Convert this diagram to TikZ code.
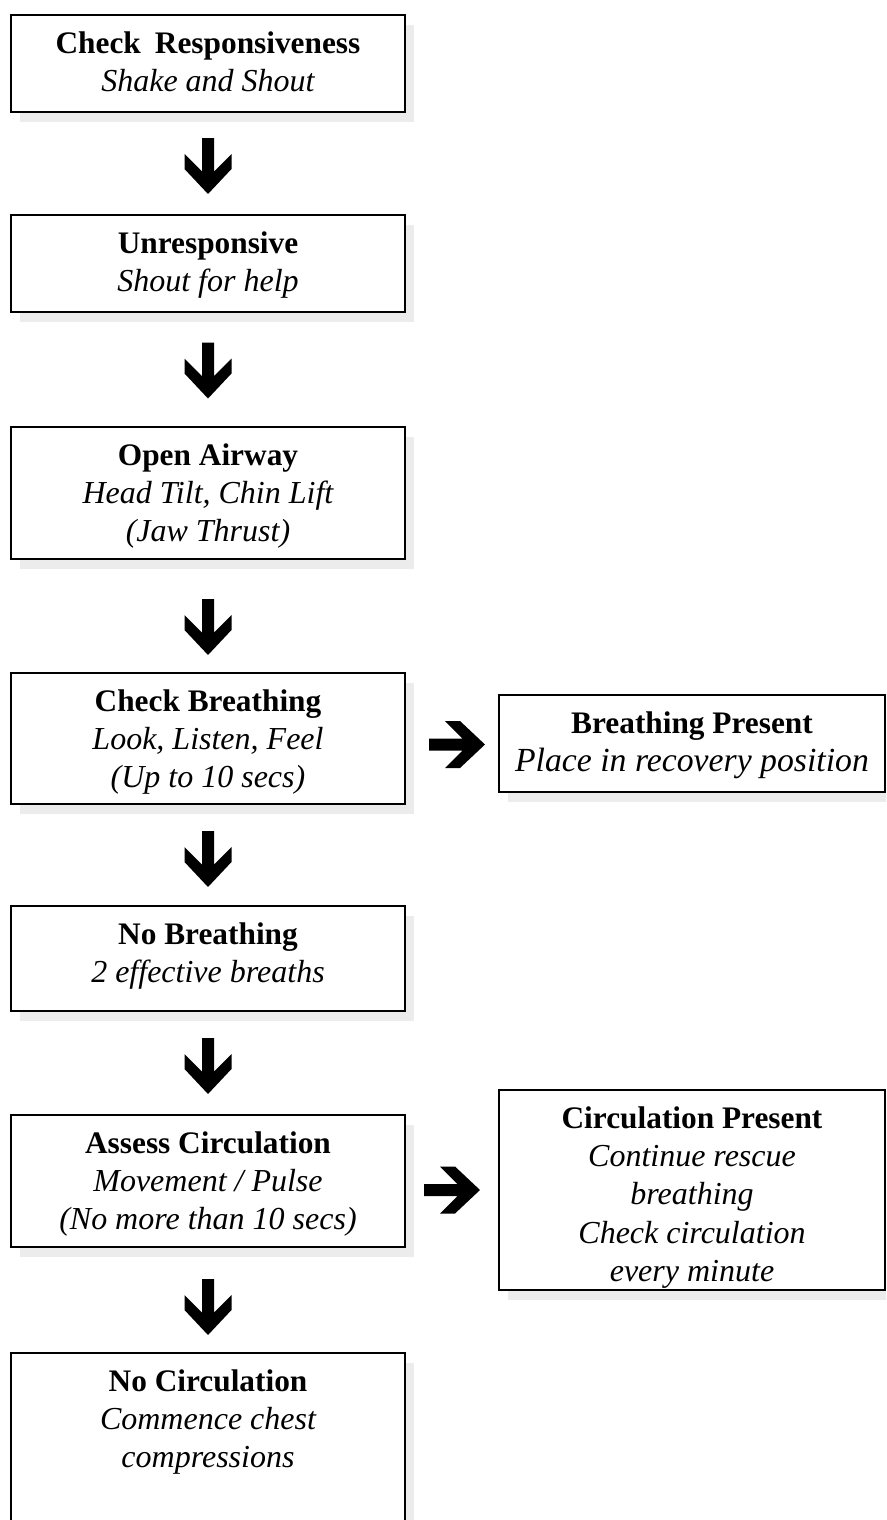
\documentclass[tikz,border=0pt]{standalone}
\usepackage{fontspec}
\setmainfont{Liberation Serif}
\usetikzlibrary{calc,shadows}
\definecolor{shadowgray}{RGB}{236,236,236}
\newcommand\ls{\rule[-8.6pt]{0pt}{28.7pt}}
\newcommand\ital[1]{{\fontsize{24pt}{28.7pt}\selectfont\itshape #1}}
\tikzset{
  box/.style={draw=black, line width=1.9pt, fill=white, rectangle, inner sep=0pt, outer sep=0pt,
    anchor=north west,
    general shadow={shadow xshift=6.75pt, shadow yshift=-7.5pt, fill=shadowgray}},
  lbl/.style={anchor=north, align=center, inner sep=0pt, font=\fontsize{23.5pt}{28.7pt}\selectfont},
  pics/downarrow/.style={code={
    \fill[black] (-6,-27) -- (6,-27) -- (6,6.5) -- (23.5,-11) -- (23.5,4) -- (0,29)
      -- (-23.5,4) -- (-23.5,-11) -- (-6,6.5) -- cycle;}},
}
\begin{document}
\begin{tikzpicture}[x=0.75pt,y=-0.75pt]
\useasboundingbox (0,0) rectangle (886,1520);
\clip (0,0) rectangle (886,1520);

% left column boxes
\node[box, minimum width=295.5pt, minimum height=72.75pt] (b1) at (11,15) {};
\node[box, minimum width=295.5pt, minimum height=72.75pt] (b2) at (11,215) {};
\node[box, minimum width=295.5pt, minimum height=99pt] (b3) at (11,427) {};
\node[box, minimum width=295.5pt, minimum height=98.25pt] (b4) at (11,673) {};
\node[box, minimum width=295.5pt, minimum height=78.75pt] (b5) at (11,906) {};
\node[box, minimum width=295.5pt, minimum height=99pt] (b6) at (11,1115) {};
\node[box, minimum width=295.5pt, minimum height=155.25pt] (b7) at (11,1353) {};

% right column boxes
\node[box, minimum width=289.5pt, minimum height=72.75pt] (r1) at (499,695) {};
\node[box, minimum width=289.5pt, minimum height=150pt] (r2) at (499,1090) {};

% texts
\node[lbl] (b1t) at ([yshift=-8.4pt]b1.north)
  {\textbf{Check\hspace{0.2em} Responsiveness}\ls\\ \ital{Shake and Shout}\ls};
\node[lbl] (b2t) at ([yshift=-8.4pt]b2.north)
  {\textbf{Unresponsive}\ls\\ \ital{Shout for help}\ls};
\node[lbl] (b3t) at ([yshift=-8.4pt]b3.north)
  {\textbf{Open Airway}\ls\\ \ital{Head Tilt, Chin Lift}\ls\\ \ital{(Jaw Thrust)}\ls};
\node[lbl] (b4t) at ([yshift=-8.4pt]b4.north)
  {\textbf{Check Breathing}\ls\\ \ital{Look, Listen, Feel}\ls\\ \ital{(Up to 10 secs)}\ls};
\node[lbl] (b5t) at ([yshift=-8.4pt]b5.north)
  {\textbf{No Breathing}\ls\\ \ital{2 effective breaths}\ls};
\node[lbl] (b6t) at ([yshift=-8.4pt]b6.north)
  {\textbf{Assess Circulation}\ls\\ \ital{Movement / Pulse}\ls\\ \ital{(No more than 10 secs)}\ls};
\node[lbl] (b7t) at ([yshift=-8.4pt]b7.north)
  {\textbf{No Circulation}\ls\\ \ital{Commence chest}\ls\\ \ital{compressions}\ls};
\node[lbl] (r1t) at ([yshift=-8.4pt]r1.north)
  {\textbf{Breathing Present}\ls\\ {\fontsize{25.3pt}{28.7pt}\selectfont\itshape Place in recovery position}\ls};
\node[lbl] (r2t) at ([yshift=-8.4pt]r2.north)
  {\textbf{Circulation Present}\ls\\ \ital{Continue rescue}\ls\\ \ital{breathing}\ls\\
   \ital{Check circulation}\ls\\ \ital{every minute}\ls};

% down arrows
\pic at ($(b1.south)!0.5!(b2.north)+(0,1.5)$) {downarrow};
\pic at ($(b2.south)!0.5!(b3.north)+(0,0)$) {downarrow};
\pic at ($(b3.south)!0.5!(b4.north)+(0,10)$) {downarrow};
\pic at ($(b4.south)!0.5!(b5.north)+(0,3)$) {downarrow};
\pic at ($(b5.south)!0.5!(b6.north)+(0,2)$) {downarrow};
\pic at ($(b6.south)!0.5!(b7.north)+(0,6)$) {downarrow};

% right arrows
\coordinate (m4) at ($(b4.east)!0.5!(r1.west)$);
\coordinate (m6) at ($(b6.east)!0.5!(r2.west)$);
\pic[rotate=90] at ($(m4 |- r1.west)+(4,1)$) {downarrow};
\pic[rotate=90] at ($(m6 |- r2.west)+(-1,0)$) {downarrow};
\end{tikzpicture}
\end{document}
